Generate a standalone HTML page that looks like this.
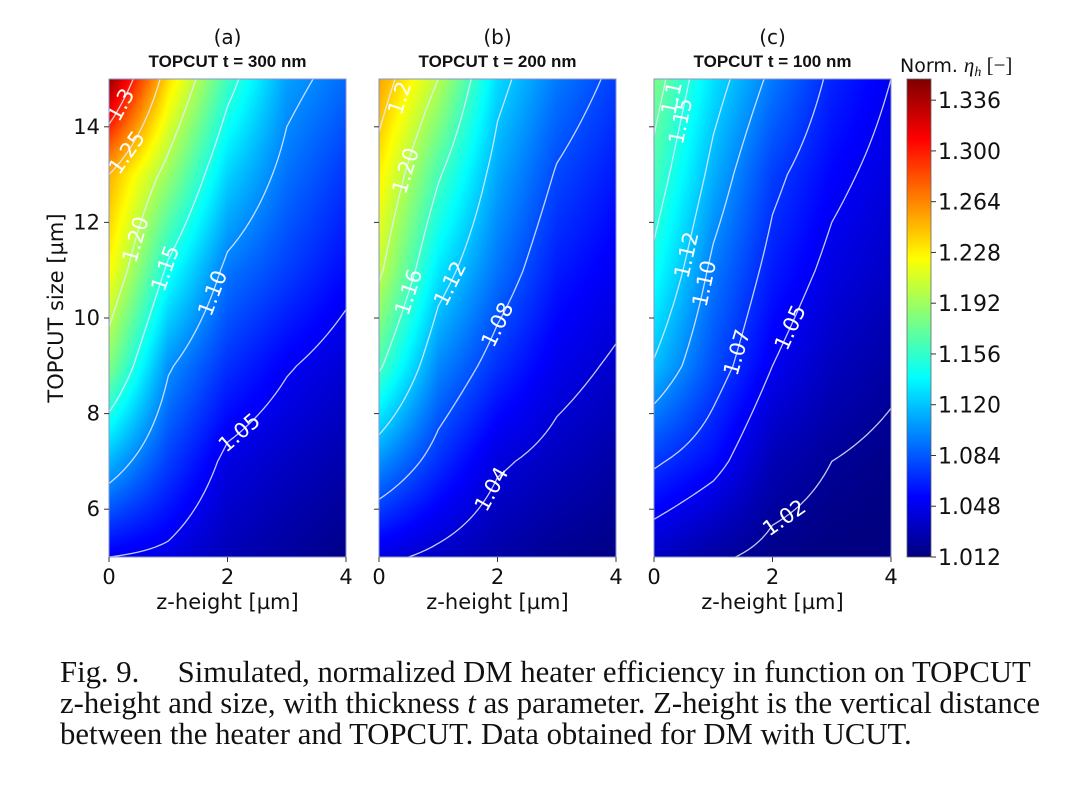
<!DOCTYPE html>
<html><head><meta charset="utf-8">
<style>
html,body{margin:0;padding:0;background:#fff;}
#wrap{position:relative;width:1080px;height:798px;overflow:hidden;font-family:"DejaVu Sans","Liberation Sans",sans-serif;}
canvas{position:absolute;}
svg{position:absolute;left:0;top:0;}
.cap{position:absolute;left:60px;font-family:"Liberation Serif",serif;font-size:30.7px;color:#111;white-space:nowrap;}
</style></head>
<body>
<div id="wrap">
<canvas id="cva" width="237" height="478" style="left:109px;top:79px"></canvas>
<canvas id="cvb" width="237" height="478" style="left:379px;top:79px"></canvas>
<canvas id="cvc" width="237" height="478" style="left:654px;top:79px"></canvas>
<canvas id="cbar" width="24" height="478" style="left:907px;top:79px"></canvas>
<svg id="sv" width="1080" height="798"></svg>
<div class="cap" style="top:655px">Fig. 9.&nbsp;&nbsp;&nbsp;&nbsp; Simulated, normalized DM heater efficiency in function on TOPCUT</div>
<div class="cap" style="top:686px">z-height and size, with thickness <i>t</i> as parameter. Z-height is the vertical distance</div>
<div class="cap" style="top:717px">between the heater and TOPCUT. Data obtained for DM with UCUT.</div>
</div>
<script>
// data: grids [zIndex][sizeIndex]
const zVals=[0,1,2,3,4];
const sizeVals=[5,7,9,11,13,15];
const gridA=[[1.05,1.115,1.183,1.225,1.25,1.345],[1.045,1.075,1.103,1.145,1.19,1.235],[1.03,1.045,1.07,1.094,1.125,1.16],[1.022,1.035,1.052,1.075,1.092,1.108],[1.015,1.027,1.04,1.057,1.072,1.09]];
const gridB=[[1.045,1.103,1.164,1.205,1.228,1.255],[1.035,1.07,1.10,1.132,1.163,1.20],[1.025,1.043,1.07,1.093,1.11,1.128],[1.018,1.033,1.048,1.063,1.078,1.095],[1.014,1.025,1.037,1.05,1.062,1.075]];
const gridC=[[1.035,1.073,1.118,1.144,1.163,1.18],[1.023,1.057,1.08,1.095,1.113,1.13],[1.015,1.03,1.05,1.063,1.075,1.095],[1.012,1.02,1.033,1.045,1.055,1.066],[1.01,1.015,1.024,1.035,1.043,1.05]];
const levelsA=[1.05,1.10,1.15,1.20,1.25,1.30];
const levelsB=[1.04,1.08,1.12,1.16,1.20,1.24];
const levelsC=[1.02,1.05,1.07,1.10,1.12,1.15,1.17];
const labelsA=[["1.05",2.2],["1.10",1.75],["1.15",0.95],["1.20",0.45],["1.25",0.3],["1.3",0.2]];
const labelsB=[["1.04",1.9],["1.08",2.0],["1.12",1.2],["1.16",0.5],["1.20",0.45],["1.2",0.35]];
const labelsC=[["1.02",2.2],["1.05",2.3],["1.07",1.4],["1.10",0.85],["1.12",0.55],["1.15",0.45],["1.1",0.3]];
const cbTicks=[1.012,1.048,1.084,1.120,1.156,1.192,1.228,1.264,1.300,1.336];
const xTicks=[0,2,4];
const yTicks=[6,8,10,12,14];
const titles=["TOPCUT t = 300 nm","TOPCUT t = 200 nm","TOPCUT t = 100 nm"];
const letters=["(a)","(b)","(c)"];
const vmin=1.012,vmax=1.351;
const PW=237,PH=478,TOP=79;
const panels=[{x:109,cv:'cva',g:gridA,lv:levelsA,lb:labelsA},{x:379,cv:'cvb',g:gridB,lv:levelsB,lb:labelsB},{x:654,cv:'cvc',g:gridC,lv:levelsC,lb:labelsC}];
function jet(t){t=Math.max(0,Math.min(1,t));
 const r=Math.min(Math.max(Math.min(4*t-1.5,-4*t+4.5),0),1);
 const g=Math.min(Math.max(Math.min(4*t-0.5,-4*t+3.5),0),1);
 const b=Math.min(Math.max(Math.min(4*t+0.5,-4*t+2.5),0),1);
 return [r*255,g*255,b*255];}
function val(g,z,s){
 let fi=(z-zVals[0])/(zVals[1]-zVals[0]);fi=Math.max(0,Math.min(zVals.length-1.0001,fi));
 let fj=(s-sizeVals[0])/(sizeVals[1]-sizeVals[0]);fj=Math.max(0,Math.min(sizeVals.length-1.0001,fj));
 const i=Math.floor(fi),j=Math.floor(fj),a=fi-i,b=fj-j;
 return g[i][j]*(1-a)*(1-b)+g[i+1][j]*a*(1-b)+g[i][j+1]*(1-a)*b+g[i+1][j+1]*a*b;}
const xs=z=>z/4*PW, ys=s=>(15-s)/10*PH;
const sv=document.getElementById('sv');const NS='http://www.w3.org/2000/svg';
function el(tag,attrs,parent){const e=document.createElementNS(NS,tag);for(const k in attrs)e.setAttribute(k,attrs[k]);(parent||sv).appendChild(e);return e;}
function txt(str,attrs,parent){const e=el('text',attrs,parent);e.textContent=str;return e;}
panels.forEach((p,pi)=>{
 const ctx=document.getElementById(p.cv).getContext('2d');const im=ctx.createImageData(PW,PH);
 for(let y=0;y<PH;y++)for(let x=0;x<PW;x++){const v=val(p.g,(x+0.5)/PW*4,15-(y+0.5)/PH*10);const c=jet((v-vmin)/(vmax-vmin));const k=(y*PW+x)*4;im.data[k]=c[0];im.data[k+1]=c[1];im.data[k+2]=c[2];im.data[k+3]=255;}
 ctx.putImageData(im,0,0);
 const grp=el('g',{transform:`translate(${p.x},${TOP})`});
 
 
 const N=40,M=100;
 p.lv.forEach(L=>{
  let d='';
  for(let i=0;i<N;i++)for(let j=0;j<M;j++){
   const z0=i/N*4,z1=(i+1)/N*4,s0=15-j/M*10,s1=15-(j+1)/M*10;
   const pts=[[z0,s0],[z1,s0],[z1,s1],[z0,s1]];const vs=pts.map(q=>val(p.g,q[0],q[1]));
   const cr=[];
   for(let e=0;e<4;e++){const a=vs[e],b=vs[(e+1)%4];if((a>=L)!==(b>=L)){const t=(L-a)/(b-a);const A=pts[e],B=pts[(e+1)%4];cr.push([A[0]+(B[0]-A[0])*t,A[1]+(B[1]-A[1])*t]);}}
   for(let k=0;k+1<cr.length;k+=2)d+=`M${xs(cr[k][0]).toFixed(2)},${ys(cr[k][1]).toFixed(2)}L${xs(cr[k+1][0]).toFixed(2)},${ys(cr[k+1][1]).toFixed(2)}`;
  }
  const path=el('path',{d:d,stroke:'#e8ecff',fill:'none','stroke-width':1.3,'stroke-opacity':0.85,'stroke-linecap':'round'},grp);
  
  
 });
 p.lb.forEach(([lab,z])=>{
  const L=parseFloat(lab)+ (lab.length===3?(p.lv[p.lv.length-1]-parseFloat(lab)):0);
  let best=null;
  for(let s=5;s<=15;s+=0.02){const v=val(p.g,z,s);if(best===null||Math.abs(v-L)<Math.abs(best[1]-L))best=[s,v];}
  let s=best[0];if(s>14.6)s=14.6;
  const e=0.01;const gx=(val(p.g,z+e,s)-val(p.g,z-e,s))/(xs(e)*2);const gy=(val(p.g,z,s-e)-val(p.g,z,s+e))/(ys(s-e)-ys(s+e));
  let tx=-gy,ty=gx;
  let ang=Math.atan2(ty,tx)*180/Math.PI; if(ang>90)ang-=180; if(ang<-90)ang+=180;
  const X=xs(z),Y=ys(s);
  const t=txt(lab,{x:X,y:Y,fill:'#fff','font-size':21,'text-anchor':'middle','dominant-baseline':'central',transform:`rotate(${ang.toFixed(1)} ${X} ${Y})`,'font-family':'"DejaVu Sans",sans-serif'},grp);
  
  
 });
 el('rect',{x:0,y:0,width:PW,height:PH,fill:'none',stroke:'#8a93c4','stroke-width':1},grp);
 xTicks.forEach(v=>{el('line',{x1:xs(v),x2:xs(v),y1:PH,y2:PH+5,stroke:'#333'},grp);
  const t=txt(String(v),{x:xs(v),y:PH+27,'font-size':21,'text-anchor':'middle',fill:'#111'},grp);
  });
 if(pi===0)yTicks.forEach(v=>{el('line',{x1:-5,x2:0,y1:ys(v),y2:ys(v),stroke:'#333'},grp);
  const t=txt(String(v),{x:-9,y:ys(v)+7,'font-size':21,'text-anchor':'end',fill:'#111'},grp);
  });
 else yTicks.forEach(v=>el('line',{x1:-5,x2:0,y1:ys(v),y2:ys(v),stroke:'#333'},grp));
 const xl=txt('z-height [µm]',{x:PW/2,y:PH+52,'font-size':21,'text-anchor':'middle',fill:'#111'},grp);
 
 const tl=txt(titles[pi],{x:PW/2,y:-12,'font-size':17,'font-weight':'bold','text-anchor':'middle',fill:'#111','font-family':'"Liberation Sans",sans-serif'},grp);
 
 const lt=txt(letters[pi],{x:PW/2,y:-35,'font-size':20,'text-anchor':'middle',fill:'#111'},grp);
 
});
const yl=txt('TOPCUT size [µm]',{x:0,y:0,'font-size':21,'text-anchor':'middle',fill:'#111',transform:`translate(63,${TOP+PH/2-10}) rotate(-90)`});

const cc=document.getElementById('cbar').getContext('2d');
for(let y=0;y<PH;y++){const c=jet((PH-y-0.5)/PH);cc.fillStyle=`rgb(${c[0]|0},${c[1]|0},${c[2]|0})`;cc.fillRect(0,y,24,1);}
el('rect',{x:907,y:TOP,width:24,height:PH,fill:'none',stroke:'#666','stroke-width':0.8});
cbTicks.forEach(v=>{const y=TOP+PH-(v-vmin)/(vmax-vmin)*PH;
 el('line',{x1:931,x2:936,y1:y,y2:y,stroke:'#333'});
 const t=txt(v.toFixed(3),{x:938,y:y+8,'font-size':22,fill:'#111'});
 });
const ct=el('text',{x:900,y:72,'font-size':19,fill:'#111'});

ct.innerHTML='Norm. <tspan font-family="Liberation Serif,serif" font-style="italic" font-size="21">η</tspan><tspan font-family="Liberation Serif,serif" font-style="italic" font-size="14" dy="4">h</tspan><tspan dy="-4" font-family="Liberation Serif,serif" font-size="21"> [−]</tspan>';
</script>
</body></html>
